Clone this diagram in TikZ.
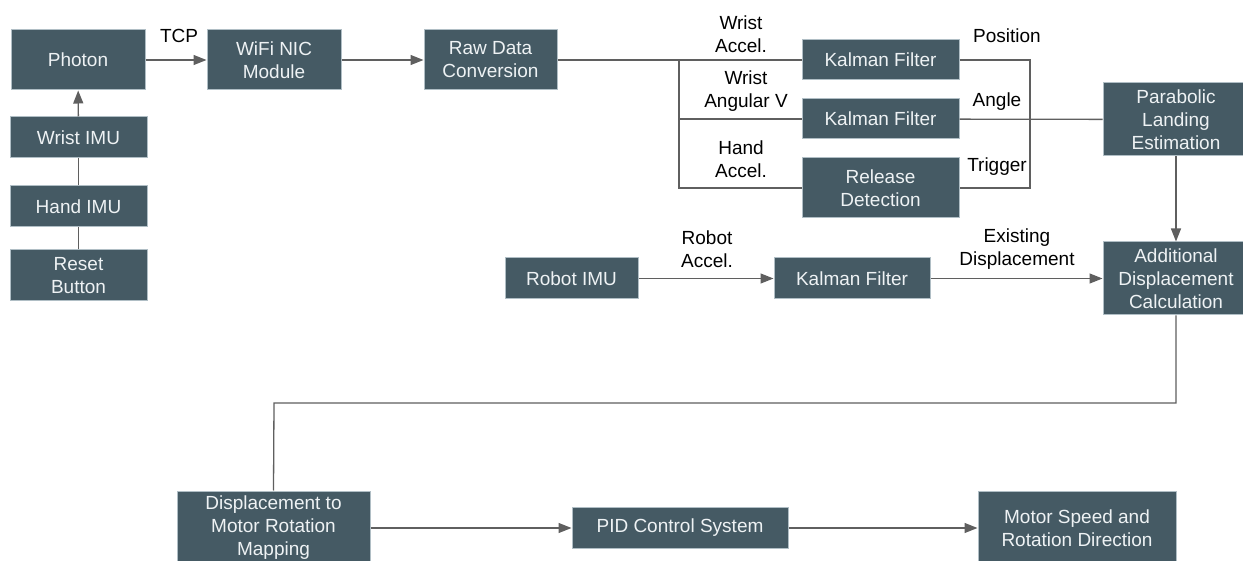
\documentclass[tikz,border=0pt]{standalone}
\usepackage{fontspec}
\setmainfont{Liberation Sans}
\usetikzlibrary{arrows.meta}
\definecolor{boxfill}{HTML}{455A64}
\definecolor{boxline}{HTML}{B0BEC5}
\definecolor{boxtext}{HTML}{EEF2F4}
\definecolor{conn}{HTML}{5F5F5F}
\begin{document}
\begin{tikzpicture}[x=1pt,y=-1pt,
  blk/.style={draw=boxline,line width=1pt,fill=boxfill,text=boxtext,align=center,
    inner sep=0pt,font=\fontsize{19}{23}\selectfont},
  lbl/.style={align=center,inner sep=0pt,text=black,font=\fontsize{19}{23}\selectfont},
  wire/.style={draw=conn,line width=1.3pt},
  arr/.style={wire,-{Triangle[length=13pt,width=10pt]}}]
\useasboundingbox[fill=white] (0,0) rectangle (1243,561);
% boxes
\node[blk,minimum width=134pt,minimum height=60pt] (photon) at (78,60) {Photon};
\node[blk,minimum width=134pt,minimum height=60pt] (wifi) at (274,60) {WiFi NIC\\Module};
\node[blk,minimum width=133pt,minimum height=60pt] (raw) at (490.5,60) {Raw Data\\Conversion};
\node[blk,minimum width=137pt,minimum height=41pt] (wrist) at (78.5,137.5) {Wrist IMU};
\node[blk,minimum width=137pt,minimum height=41pt] (hand) at (78.5,206.5) {Hand IMU};
\node[blk,minimum width=137pt,minimum height=51pt] (reset) at (78.5,275.5) {Reset\\Button};
\node[blk,minimum width=157pt,minimum height=40pt] (kfa) at (880.5,60) {Kalman Filter};
\node[blk,minimum width=157pt,minimum height=40pt] (kfb) at (880.5,119) {Kalman Filter};
\node[blk,minimum width=157pt,minimum height=60pt] (rel) at (880.5,188) {Release\\Detection};
\node[blk,minimum width=146pt,minimum height=73pt] (para) at (1176,119.5) {Parabolic\\Landing\\Estimation};
\node[blk,minimum width=146pt,minimum height=73pt] (add) at (1176,278.5) {Additional\\Displacement\\Calculation};
\node[blk,minimum width=133pt,minimum height=41pt] (robot) at (571.5,278.5) {Robot IMU};
\node[blk,minimum width=156pt,minimum height=41pt] (kfc) at (852,278.5) {Kalman Filter};
\node[blk,minimum width=193pt,minimum height=74pt] (disp) at (273.5,528) {Displacement to\\Motor Rotation\\Mapping};
\node[blk,minimum width=216pt,minimum height=41pt] (pid) at (680,528) {PID Control System};
\node[blk,minimum width=198pt,minimum height=74pt] (motor) at (1077,528) {Motor Speed and\\Rotation Direction};
% helper coordinates
\coordinate (bl) at (679,60);
\coordinate (blb) at (679,119);
\coordinate (blc) at (679,188);
\coordinate (mr) at (1030,60);
\coordinate (mrc) at (1030,188);
\coordinate (ra) at (1176,403);
\coordinate (la) at (274,403);
% connectors
\draw[arr] (photon) -- (wifi);
\draw[arr] (wifi) -- (raw);
\draw[arr] (wrist) -- (photon);
\draw[wire] (hand) -- (wrist);
\draw[wire] (reset) -- (hand);
\draw[wire] (raw) -- (kfa);
\draw[wire] (bl) -- (blc) -- (rel.west);
\draw[wire] (blb) -- (kfb.west);
\draw[wire] (kfa.east) -- (mr) -- (mrc) -- (rel.east);
\draw[wire] (kfb) -- (para);
\draw[arr] (para) -- (add);
\draw[arr] (robot) -- (kfc);
\draw[arr] (kfc) -- (add);
\draw[wire] (add.south) -- (ra) -- (la) -- (disp.north);
\draw[arr] (disp) -- (pid);
\draw[arr] (pid) -- (motor);
% labels
\node[lbl] (ltcp) at (179,36) {TCP};
\node[lbl] (lwa) at (741,34) {Wrist\\Accel.};
\node[lbl] (lwv) at (746,91) {Wrist\\Angular V};
\node[lbl] (lha) at (741,159) {Hand\\Accel.};
\node[lbl] (lpos) at (1007,36) {Position};
\node[lbl] (lang) at (997,102) {Angle};
\node[lbl] (ltrig) at (997,167) {Trigger};
\node[lbl] (lra) at (707,249) {Robot\\Accel.};
\node[lbl] (led) at (1017,249) {Existing\\Displacement};
\end{tikzpicture}
\end{document}
